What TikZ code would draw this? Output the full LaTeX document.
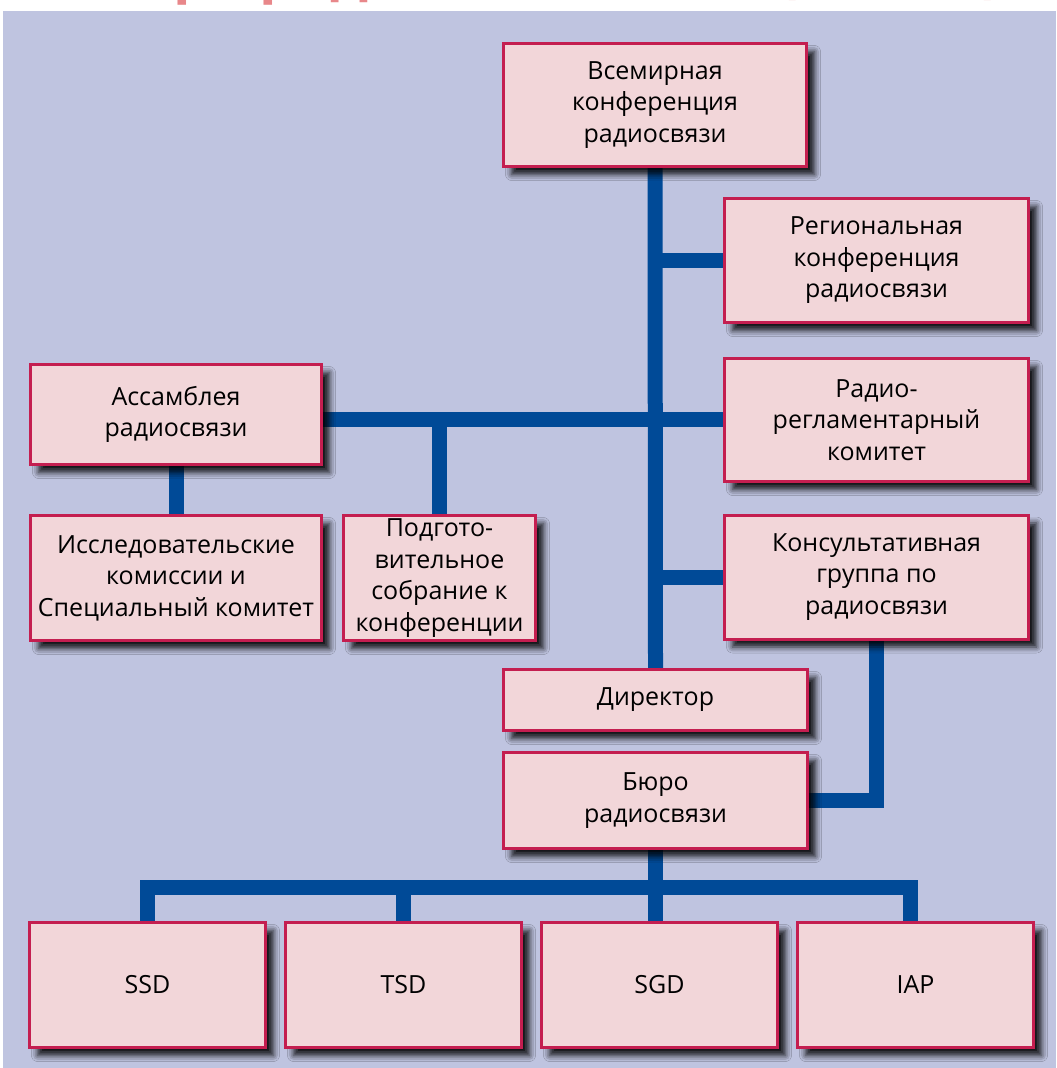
\documentclass[tikz,border=0pt]{standalone}
\usepackage{fontspec}
\setmainfont{Open Sans}
\usetikzlibrary{backgrounds, shadows.blur}

\definecolor{bgblue}{HTML}{BFC4E0}
\definecolor{boxpink}{HTML}{F2D6D9}
\definecolor{boxred}{HTML}{C41E50}
\definecolor{linkblue}{HTML}{004A97}
\definecolor{titlered}{HTML}{E8878A}

\begin{document}
\begin{tikzpicture}[x=0.5pt, y=-0.5pt,
    unit/.style n args={2}{draw=boxred, line width=1.5pt, fill=boxpink, align=center,
        inner sep=0pt, minimum width=#1, minimum height=#2,
        font=\fontsize{12.5}{15.75}\selectfont,
        blur shadow={shadow xshift=4pt, shadow yshift=-4pt, shadow blur radius=3pt, shadow opacity=90}},
    link/.style={linkblue, line width=7.5pt}]

        \useasboundingbox (0,0) rectangle (1056,1068);

        % title, cut off by the top edge
        \node[anchor=base west, inner sep=0pt, text=titlered, font=\fontsize{28.7}{29}\selectfont\bfseries] (title) at (0,-8) {Сектора радиосвязи МСЭ (МСЭ-R)};

        % conferences and committees
        \node[unit={151.5pt}{61.5pt}] (wrc) at (655,105) {Всемирная\\конференция\\радиосвязи};
        \node[unit={152pt}{62pt}] (rrc) at (876.5,260.5) {Региональная\\конференция\\радиосвязи};
        \node[unit={152pt}{61.5pt}] (rrb) at (876.5,420) {Радио-\\регламентарный\\комитет};
        \node[unit={152pt}{62pt}] (rag) at (876.5,577) {Консультативная\\группа по\\радиосвязи};
        \node[unit={145.5pt}{50pt}] (ra) at (176,414.5) {Ассамблея\\радиосвязи};
        \node[unit={145.5pt}{62.5pt}] (sg) at (176,578) {Исследовательские\\комиссии и\\Специальный комитет};
        \node[unit={96pt}{62.5pt}] (cpm) at (439.5,578) {Подгото-\\вительное\\собрание к\\конференции};

        % bureau
        \node[unit={152pt}{30.5pt}] (dir) at (655.5,700) {Директор};
        \node[unit={152pt}{48pt}] (br) at (655.5,800.5) {Бюро\\радиосвязи};
        \coordinate (bus) at (br.south |- 0,887);

        \foreach \name/\x/\txt in {ssd/147.5/SSD, tsd/403.5/TSD, sgd/659.5/SGD, iap/915.5/IAP}
                \node[unit={118pt}{62.5pt}] (\name) at (\x,985) {\txt};

        \begin{scope}[on background layer]
                \fill[bgblue] (3,11) rectangle (1056,1068);
                % main trunk and its branches
                \draw[link] (wrc.south) -- (dir.north);
                \draw[link] (rrc.west) -- (rrc.west -| wrc.south);
                \draw[link] (rag.west) -- (rag.west -| wrc.south);
                \draw[link] (ra.east |- rrb.west) -- (rrb.west);
                \draw[link] (cpm.north) -- (cpm.north |- rrb.west);
                \draw[link] (ra.south) -- (sg.north);
                \draw[link] (rag.south) |- (br.east);
                % departments
                \draw[link] (br.south) -- (bus |- sgd.north);
                \draw[link] (ssd.north) |- (bus) -| ([xshift=-2.75pt]iap.north);
                \draw[link] (tsd.north) -- (tsd.north |- bus);
        \end{scope}

\end{tikzpicture}
\end{document}
